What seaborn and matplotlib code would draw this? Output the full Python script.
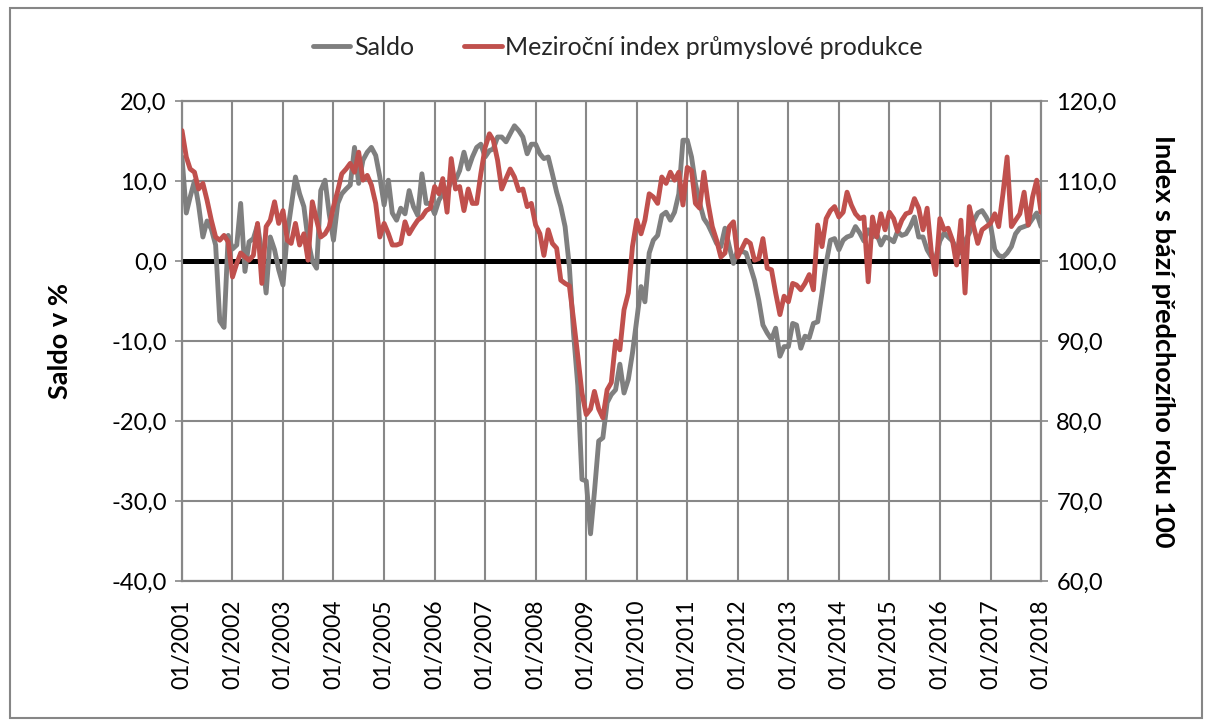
import numpy as np
import pandas as pd
import matplotlib
matplotlib.use("Agg")
import matplotlib.pyplot as plt
import matplotlib.dates as mdates
from matplotlib.ticker import FuncFormatter, MultipleLocator
from matplotlib.patches import Rectangle
import seaborn as sns

# mesicni hodnoty 01/2001 - 01/2018
saldo = [
    13.0, 6.0, 8.0, 10.0, 7.0, 3.0, 5.0, 4.0, 2.0, -7.5, -8.3, 3.2,
    1.5, 2.0, 7.2, -1.3, 2.4, 2.8, 4.5, 1.0, -4.0, 3.0, 1.4, -1.1,
    -3.0, 3.4, 6.8, 10.5, 8.4, 6.8, 2.6, 0.0, -0.9, 8.8, 10.1, 5.9,
    2.6, 7.2, 8.4, 9.0, 9.5, 14.2, 9.7, 12.6, 13.6, 14.2, 13.2, 10.5,
    7.0, 10.1, 6.0, 5.1, 6.6, 5.9, 8.8, 6.8, 5.7, 10.9, 7.2, 7.2,
    5.9, 7.6, 8.4, 8.8, 9.9, 10.1, 11.3, 13.6, 11.5, 13.0, 14.2, 14.6,
    13.0, 13.8, 14.0, 15.5, 15.5, 14.9, 15.9, 16.9, 16.3, 15.5, 13.4, 14.6,
    14.6, 13.4, 12.8, 13.0, 10.9, 8.6, 6.8, 4.3, -0.7, -9.0, -15.6, -27.3,
    -27.5, -34.1, -28.9, -22.5, -22.1, -17.7, -16.7, -16.1, -12.9, -16.5, -14.8, -11.5,
    -7.3, -3.2, -5.1, 1.0, 2.6, 3.2, 5.7, 6.1, 5.1, 6.1, 8.4, 15.1,
    15.1, 13.0, 9.7, 7.2, 5.3, 4.5, 3.4, 2.2, 1.8, 4.1, 1.8, -0.3,
    1.4, 1.2, 1.0, -0.7, -2.4, -4.9, -8.0, -9.0, -9.8, -8.4, -11.9, -10.7,
    -10.7, -7.8, -8.0, -10.9, -9.4, -9.6, -7.8, -7.6, -4.0, -0.3, 2.6, 2.8,
    1.4, 2.6, 3.0, 3.2, 4.3, 3.5, 2.5, 3.9, 3.0, 3.4, 2.0, 3.0,
    2.8, 2.4, 3.7, 3.2, 3.4, 4.3, 5.5, 3.0, 3.0, 1.4, 0.5, 0.3,
    2.5, 3.5, 3.0, 2.5, 1.5, 1.0, 2.5, 3.5, 5.0, 6.0, 6.3, 5.5,
    4.5, 1.4, 0.7, 0.5, 1.0, 1.8, 3.4, 4.1, 4.3, 4.5, 5.3, 6.0,
    4.3,
]

index_pp = [
    116.3, 113.0, 111.5, 111.1, 109.0, 109.7, 107.6, 105.1, 103.0, 102.6, 103.2, 102.4,
    98.0, 99.7, 101.0, 100.5, 100.1, 100.7, 104.7, 97.2, 104.3, 105.1, 107.4, 104.7,
    106.3, 102.6, 102.2, 104.7, 102.0, 103.4, 100.1, 107.4, 105.1, 103.0, 103.4, 104.3,
    106.8, 108.8, 110.9, 111.5, 112.2, 111.1, 113.6, 110.1, 110.7, 109.5, 107.2, 103.0,
    104.7, 103.4, 102.0, 102.0, 102.2, 104.9, 103.4, 104.3, 105.1, 105.5, 106.3, 106.6,
    109.3, 108.4, 110.3, 106.1, 112.8, 109.0, 109.3, 106.3, 109.0, 107.2, 107.2, 110.9,
    114.2, 115.9, 115.1, 112.6, 109.0, 110.3, 111.5, 110.5, 108.8, 109.0, 106.8, 107.2,
    104.5, 103.4, 100.7, 103.9, 102.2, 101.6, 97.6, 97.2, 96.9, 92.7, 88.1, 83.5,
    80.8, 81.5, 83.7, 81.5, 80.4, 83.9, 84.8, 90.0, 88.9, 93.9, 96.0, 101.8,
    105.1, 103.4, 105.1, 108.4, 108.0, 107.2, 110.5, 109.7, 111.1, 110.1, 111.1, 107.0,
    111.7, 111.3, 107.2, 106.6, 111.1, 107.2, 104.3, 102.6, 100.5, 101.0, 104.3, 104.9,
    100.5, 101.6, 102.6, 102.2, 100.1, 100.3, 102.8, 99.1, 98.9, 96.0, 93.3, 95.6,
    94.9, 97.2, 97.0, 96.4, 97.2, 98.3, 96.4, 104.5, 101.8, 105.3, 106.3, 106.8,
    105.5, 106.1, 108.6, 107.0, 105.9, 105.3, 105.5, 97.4, 105.5, 103.0, 105.9, 103.9,
    106.1, 105.3, 103.7, 105.1, 105.9, 106.1, 107.8, 106.6, 103.9, 106.6, 101.0, 98.3,
    105.3, 103.9, 104.1, 102.6, 99.5, 105.1, 96.0, 106.8, 104.3, 102.2, 103.9, 104.3,
    104.7, 105.9, 104.3, 108.4, 113.0, 104.3, 105.1, 105.9, 108.6, 104.5, 108.0, 110.1,
    106.1,
]

year_ticks = list(range(2001, 2019))

dates = pd.date_range("2001-01-01", periods=len(saldo), freq="MS")
df = pd.DataFrame({"datum": dates, "saldo": saldo, "index": index_pp})

GRAY = "#7F7F7F"
RED = "#C0504D"
GRID = "#888888"

sns.set_theme(style="white")
plt.rcParams["font.family"] = ["Lato", "DejaVu Sans"]

fig = plt.figure(figsize=(12.07, 7.22), dpi=100)
ax = fig.add_axes([182 / 1207, 141 / 722, 859 / 1207, 480 / 722])
ax2 = ax.twinx()

ax.axhline(0, color="black", linewidth=3.6, zorder=2)
sns.lineplot(data=df, x="datum", y="saldo", ax=ax, color=GRAY, linewidth=3.5,
             label="Saldo", legend=False, zorder=3)
sns.lineplot(data=df, x="datum", y="index", ax=ax2, color=RED, linewidth=3.5,
             label="Meziroční index průmyslové produkce", legend=False, zorder=3)

ax.set_ylim(-40, 20)
ax2.set_ylim(60, 120)
ax.set_xlim(pd.Timestamp("2001-01-01"), pd.Timestamp("2018-01-01"))
ax.yaxis.set_major_locator(MultipleLocator(10))
ax2.yaxis.set_major_locator(MultipleLocator(10))
comma = FuncFormatter(lambda v, p: f"{v:.1f}".replace(".", ","))
ax.yaxis.set_major_formatter(comma)
ax2.yaxis.set_major_formatter(comma)

ax.set_xticks([pd.Timestamp(f"{y}-01-01") for y in year_ticks])
ax.xaxis.set_major_formatter(mdates.DateFormatter("%m/%Y"))
ax.grid(True, color=GRID, linewidth=1.5, zorder=0)
ax.set_axisbelow(True)

for a in (ax, ax2):
    for s in a.spines.values():
        s.set_color(GRID)
        s.set_linewidth(1.5)
    a.tick_params(axis="both", colors="black", labelsize=17, length=5,
                  width=1.2, color=GRID, direction="out", pad=6)
ax.tick_params(axis="x", labelrotation=90, labelsize=16.5, pad=8)

ax.set_xlabel("")
ax.set_ylabel("Saldo v %", fontsize=19.5, fontweight="bold", color="black")
ax.yaxis.set_label_coords(-0.128, 0.5)
ax2.set_ylabel("Index s bází předchozího roku 100", fontsize=19.5, fontweight="bold",
               color="black", rotation=270, va="center")
ax2.yaxis.set_label_coords(1.142, 0.5)

h1, l1 = ax.get_legend_handles_labels()
h2, l2 = ax2.get_legend_handles_labels()
fig.legend(h1 + h2, l1 + l2, loc="center", bbox_to_anchor=(0.512, 0.934), ncol=2,
           frameon=False, fontsize=18, handlelength=1.5, handletextpad=0.15,
           columnspacing=2.0)

fig.patches.append(Rectangle((10 / 1207, 4 / 722), 1192 / 1207, 710 / 722,
                             transform=fig.transFigure, fill=False,
                             edgecolor="#868686", linewidth=1.5))

fig.savefig("out.png", dpi=100, facecolor="white")
